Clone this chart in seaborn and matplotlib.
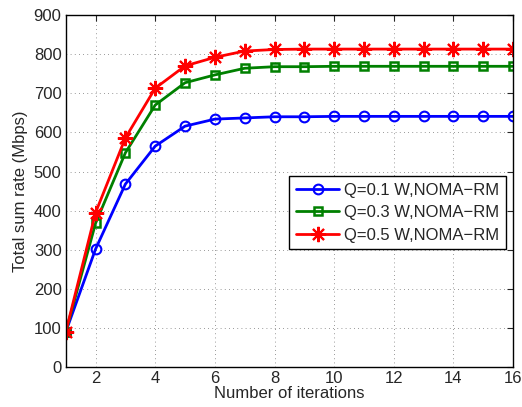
# Total sum rate vs number of iterations

import numpy as np
import pandas as pd
import seaborn as sns
import matplotlib.pyplot as plt

iters = list(range(1, 17))
rate_q01 = [90, 302, 468, 565, 616, 634, 637, 640, 640, 641, 641, 641, 641, 641, 641, 641]
rate_q03 = [90, 368, 548, 670, 727, 747, 764, 768, 768, 769, 769, 769, 769, 769, 769, 769]
rate_q05 = [90, 395, 586, 713, 770, 792, 808, 812, 813, 813, 813, 813, 813, 813, 813, 813]
labels = ['Q=0.1 W,NOMA\u2212RM', 'Q=0.3 W,NOMA\u2212RM', 'Q=0.5 W,NOMA\u2212RM']

sns.set_style('white')
plt.rcParams['font.family'] = ['Liberation Sans', 'DejaVu Sans']

fig = plt.figure(figsize=(5.22, 4.07), dpi=100)
ax = fig.add_axes([0.126, 0.098, 0.857, 0.865])

# asterisk marker like MATLAB '*'
series = [(rate_q01, 'blue', 'o', 7), (rate_q03, 'green', 's', 5.5), (rate_q05, 'red', (8, 2, 0), 11)]
for (vals, col, mk, ms), lab in zip(series, labels):
    df = pd.DataFrame({'it': iters, 'rate': vals})
    sns.lineplot(data=df, x='it', y='rate', ax=ax, color=col, marker=mk, markersize=ms,
                 markerfacecolor='none', markeredgecolor=col,
                 markeredgewidth=1.8 if mk == 's' else 1.5, linewidth=2, label=lab)

ax.set_xlim(1, 16)
ax.set_ylim(0, 900)
ax.set_xticks(range(2, 17, 2))
ax.set_yticks(range(0, 901, 100))
ax.grid(True, color='#777777', linestyle=(0, (1, 4)), linewidth=0.6)
ax.tick_params(direction='in', top=True, right=True, labelsize=12, length=4, width=0.8, pad=3)
for s in ax.spines.values():
    s.set_color('black')
    s.set_linewidth(1)
ax.set_xlabel('Number of iterations', fontsize=12, labelpad=0)
ax.set_ylabel('Total sum rate (Mbps)', fontsize=12, labelpad=4)

leg = ax.legend(loc='upper right', bbox_to_anchor=(0.984, 0.543), fontsize=12, frameon=True,
                fancybox=False, edgecolor='black', framealpha=1, handlelength=2.6,
                borderpad=0.4, labelspacing=0.45, handletextpad=0.3, borderaxespad=0)
leg.get_frame().set_linewidth(1)

fig.savefig('out.png', dpi=100)
